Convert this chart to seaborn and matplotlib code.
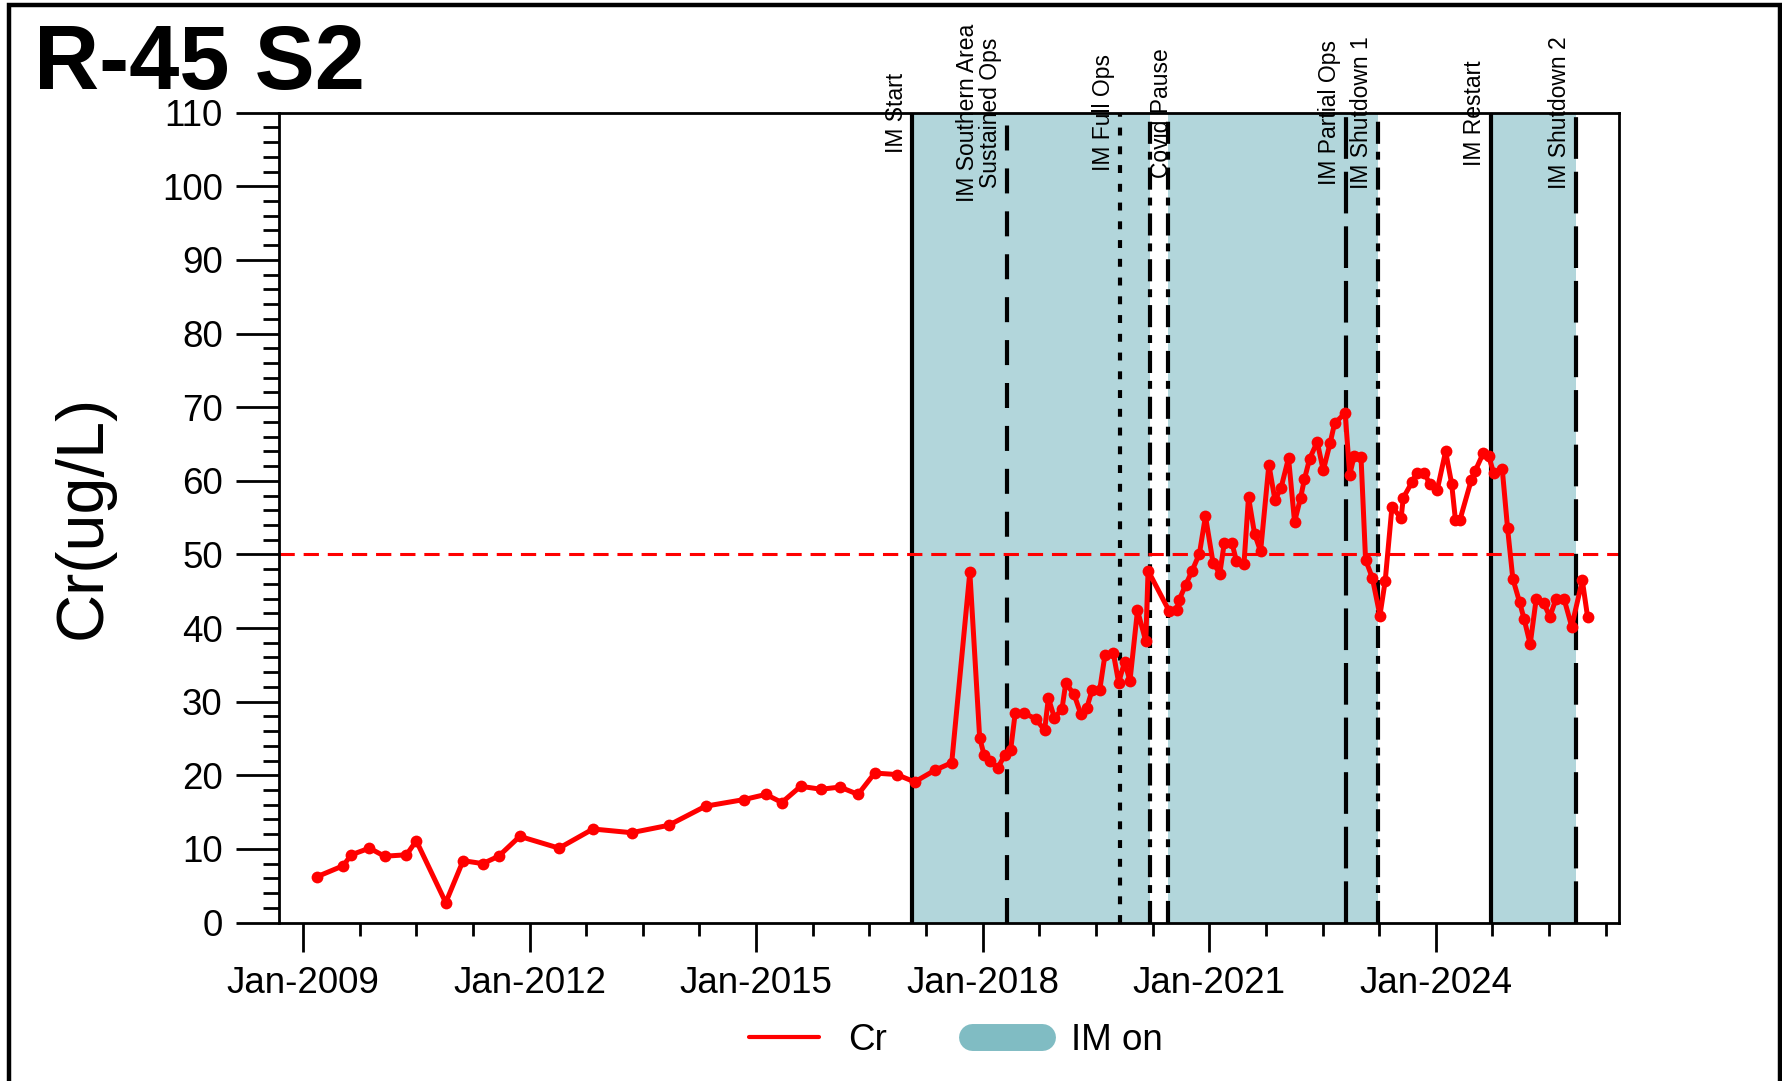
import numpy as np
import pandas as pd
import matplotlib
matplotlib.use("Agg")
import matplotlib.pyplot as plt
import seaborn as sns
from matplotlib.ticker import MultipleLocator, FuncFormatter
from matplotlib.lines import Line2D
from matplotlib.patches import Rectangle

# ---------------- data ----------------
sample_year = [
    2009.18, 2009.53, 2009.64, 2009.88, 2010.08, 2010.37, 2010.50, 2010.89,
    2011.12, 2011.38, 2011.59, 2011.87, 2012.39, 2012.84, 2013.35, 2013.84,
    2014.33, 2014.84, 2015.13, 2015.34, 2015.59, 2015.86, 2016.11, 2016.35,
    2016.57, 2016.86, 2017.10, 2017.37, 2017.59,
    2017.83, 2017.96, 2018.02, 2018.10, 2018.20, 2018.29, 2018.37, 2018.43,
    2018.55, 2018.70, 2018.82, 2018.87, 2018.95, 2019.05, 2019.10, 2019.21,
    2019.30, 2019.38, 2019.45, 2019.55, 2019.62, 2019.73, 2019.80, 2019.88,
    2019.95, 2020.05, 2020.16, 2020.19,
    2020.47, 2020.57, 2020.60, 2020.69, 2020.77, 2020.87, 2020.95, 2021.05,
    2021.14, 2021.20, 2021.30, 2021.36, 2021.46, 2021.52, 2021.60, 2021.68,
    2021.79, 2021.87, 2021.95, 2022.05, 2022.13, 2022.21, 2022.26, 2022.33,
    2022.43, 2022.51, 2022.60, 2022.66, 2022.80, 2022.86, 2022.92, 2023.01,
    2023.07, 2023.16, 2023.26, 2023.33, 2023.42, 2023.54, 2023.57, 2023.69,
    2023.75, 2023.85, 2023.92, 2024.02, 2024.13, 2024.21, 2024.26, 2024.32,
    2024.47, 2024.52, 2024.63, 2024.70, 2024.77, 2024.88, 2024.95, 2025.02,
    2025.11, 2025.17, 2025.25, 2025.33, 2025.43, 2025.51, 2025.59, 2025.70,
    2025.80, 2025.94, 2026.01,
]
cr_ugL = [
    6.2, 7.7, 9.2, 10.1, 9.0, 9.2, 11.1, 2.7,
    8.4, 8.0, 9.0, 11.7, 10.1, 12.7, 12.2, 13.2,
    15.8, 16.7, 17.4, 16.3, 18.5, 18.1, 18.4, 17.4,
    20.3, 20.1, 19.1, 20.7, 21.7,
    47.6, 25.1, 22.7, 21.9, 21.0, 22.7, 23.4, 28.4,
    28.4, 27.7, 26.1, 30.5, 27.8, 29.0, 32.5, 31.0,
    28.3, 29.2, 31.6, 31.6, 36.4, 36.6, 32.6, 35.4,
    32.8, 42.4, 38.2, 47.8,
    42.3, 42.4, 43.8, 45.9, 47.7, 50.1, 55.2, 48.9,
    47.4, 51.6, 51.6, 49.1, 48.7, 57.8, 52.8, 50.4,
    62.2, 57.4, 59.0, 63.1, 54.4, 57.7, 60.2, 63.0,
    65.3, 61.4, 65.1, 67.8, 69.2, 60.8, 63.4, 63.2,
    49.3, 46.8, 41.7, 46.4, 56.5, 54.9, 57.7, 59.9,
    61.1, 61.1, 59.5, 58.8, 64.0, 59.6, 54.7, 54.7,
    60.1, 61.3, 63.8, 63.3, 61.0, 61.6, 53.6, 46.7,
    43.5, 41.2, 37.8, 44.0, 43.4, 41.5, 43.9, 43.9,
    40.2, 46.5, 41.5,
]
threshold = 50

event_labels = ["IM Start", "IM Southern Area\nSustained Ops", "IM Full Ops",
                "Covid Pause", "", "IM Partial Ops", "IM Shutdown 1",
                "IM Restart", "IM Shutdown 2"]
event_years = [2017.07, 2018.32, 2019.82, 2020.22, 2020.46, 2022.81,
               2023.23, 2024.73, 2025.86]

im_on_start = [2017.07, 2020.46, 2024.73]
im_on_end = [2020.22, 2023.23, 2025.86]

series_name = "Cr"
shade_name = "IM on"
title = "R-45 S2"
ylabel = "Cr(ug/L)"

# ---------------- styles ----------------
solid = "-"
dash_med = (0, (6.0, 4.3))
dotted = (0, (1.9, 2.6))
dashdot = (0, (5.3, 1.9, 1.9, 1.9))
dash_long = (0, (10.0, 3.1))
event_styles = [solid, dash_med, dotted, dashdot, dashdot, dash_long,
                dashdot, solid, dash_long]
shade_color = "#80BCC3"

sns.set_theme(style="white")
plt.rcParams["font.family"] = ["Liberation Sans", "DejaVu Sans"]
plt.rcParams["text.color"] = "black"

W, H = 1783, 1081
fig = plt.figure(figsize=(W / 100, H / 100), dpi=100)
ax_l, ax_r, ax_t, ax_b = 279, 1619.3, 112.7, 922.5
ax = fig.add_axes([ax_l / W, 1 - ax_b / H, (ax_r - ax_l) / W, (ax_b - ax_t) / H])
ax.set_facecolor("white")

# shading
for s, e in zip(im_on_start, im_on_end):
    ax.axvspan(s, e, color=shade_color, alpha=0.6, lw=0, zorder=0)

# event lines
for yr, st in zip(event_years, event_styles):
    ax.axvline(yr, color="black", lw=3, ls=st, zorder=2, dash_capstyle="butt")

# threshold
ax.axhline(threshold, color="red", lw=2.2, ls=(0, (5.0, 2.9)), zorder=2.5)

# data
df = pd.DataFrame({"year": sample_year, "cr": cr_ugL})
sns.lineplot(data=df, x="year", y="cr", ax=ax, color="red", lw=3.6,
             marker="o", markersize=8.5, markeredgewidth=0, zorder=4,
             legend=False, sort=False, estimator=None)

ax.set_xlim(2008.682, 2026.43)
ax.set_ylim(0, 110)
ax.set_xlabel("")
ax.set_ylabel("")

ax.xaxis.set_major_locator(MultipleLocator(3, offset=2))
ax.xaxis.set_minor_locator(MultipleLocator(0.75, offset=0.5))
ax.xaxis.set_major_formatter(FuncFormatter(lambda v, p: f"Jan-{int(round(v))}"))
ax.yaxis.set_major_locator(MultipleLocator(10))
ax.yaxis.set_minor_locator(MultipleLocator(2))

ax.tick_params(axis="y", which="major", direction="out", length=31, width=2,
               labelsize=26.5, pad=9.5, left=True, color="black", labelcolor="black")
ax.tick_params(axis="y", which="minor", direction="out", length=11.5, width=2,
               left=True, color="black")
ax.tick_params(axis="x", which="major", direction="out", length=21, width=2,
               labelsize=26.5, pad=10, bottom=True, color="black", labelcolor="black")
ax.tick_params(axis="x", which="minor", direction="out", length=9.4, width=2,
               bottom=True, color="black")
for sp in ax.spines.values():
    sp.set_color("black")
    sp.set_linewidth(2)
    sp.set_visible(True)

# event labels
for lab, yr in zip(event_labels, event_years):
    if not lab:
        continue
    if lab == "Covid Pause":
        ha, dx = "left", 0
    else:
        ha, dx = "right", -3.5
    ax.annotate(lab, xy=(yr, 110), xycoords="data", xytext=(dx, 0),
                textcoords="offset points", rotation=90, ha=ha, va="center",
                fontsize=16.5, annotation_clip=False, multialignment="center",
                linespacing=1.0, color="black", zorder=6)

# title & y label
fig.text(34 / W, 1 - 89 / H, title, fontsize=65, fontweight="bold",
         ha="left", va="baseline", color="black")
fig.text(84 / W, 1 - 517 / H, ylabel, fontsize=48, rotation=90,
         ha="center", va="center", color="black")

# legend
handles = [Line2D([], [], color="red", lw=3),
           Line2D([], [], color=shade_color, lw=19.4, solid_capstyle="round")]
fig.legend(handles, [series_name, shade_name], loc="center",
           bbox_to_anchor=(956 / W, 1 - 1040 / H), ncol=2, frameon=False,
           fontsize=26.5, handlelength=1.9, handletextpad=0.8,
           columnspacing=2.3, borderpad=0.2)

# figure border
fig.add_artist(Rectangle((9 / W, -0.05), (1780 - 9) / W, 1 - 5.3 / H + 0.05,
                         transform=fig.transFigure, fill=False,
                         edgecolor="black", lw=3.2, clip_on=False))

fig.savefig("out.png", dpi=100)
